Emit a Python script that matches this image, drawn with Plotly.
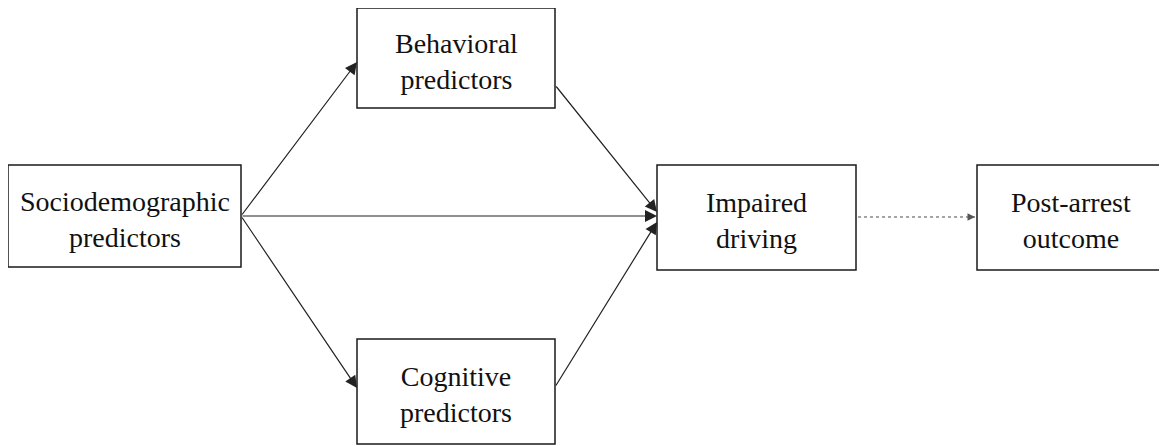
import plotly.graph_objects as go

# Nodes of the path diagram
node_names = ["Sociodemographic<br>predictors", "Behavioral<br>predictors",
              "Cognitive<br>predictors", "Impaired<br>driving", "Post-arrest<br>outcome"]
# box extents (x0, x1, y0, y1) in diagram coordinates
box_x0 = [8, 357, 357, 657, 977]
box_x1 = [241, 555, 555, 856, 1165]
box_y0 = [165, 8, 339, 165, 165]
box_y1 = [267, 108, 444, 270, 270]

# Edges: start point -> end point
edge_x0 = [241, 241, 241, 555, 555]
edge_y0 = [216, 216, 216, 85, 387]
edge_x1 = [357, 657, 357, 657, 657]
edge_y1 = [62, 216, 388, 212, 222]

dotted_x = [858, 975]
dotted_y = [217, 217]

fig = go.Figure()

shapes = []
annotations = []
for i, name in enumerate(node_names):
    shapes.append(dict(type="rect", xref="x", yref="y",
                       x0=box_x0[i], x1=box_x1[i], y0=box_y0[i], y1=box_y1[i],
                       line=dict(color="#1a1a1a", width=1.5), fillcolor="white", layer="below"))
    annotations.append(dict(x=(box_x0[i] + box_x1[i]) / 2, y=(box_y0[i] + box_y1[i]) / 2 + 3,
                            xref="x", yref="y", text=name, showarrow=False,
                            font=dict(family="Liberation Serif", size=28, color="#111"),
                            align="center"))

for x0, y0, x1, y1 in zip(edge_x0, edge_y0, edge_x1, edge_y1):
    annotations.append(dict(x=x1, y=y1, ax=x0, ay=y0, xref="x", yref="y",
                            axref="x", ayref="y", text="", showarrow=True,
                            arrowhead=2, arrowsize=2, arrowwidth=1.2,
                            arrowcolor="#222", standoff=0, startstandoff=0))

fig.add_trace(go.Scatter(x=dotted_x, y=dotted_y, mode="lines",
                         line=dict(color="#888", width=1.5, dash="dot"),
                         hoverinfo="skip", showlegend=False))
annotations.append(dict(x=dotted_x[1], y=dotted_y[1], ax=dotted_x[1] - 4, ay=dotted_y[1],
                        xref="x", yref="y", axref="x", ayref="y", text="", showarrow=True,
                        arrowhead=2, arrowsize=1.5, arrowwidth=1, arrowcolor="#555"))

# page body has an 8px margin, so the figure starts at page pixel 8
fig.update_layout(
    width=1159, height=438,
    margin=dict(l=0, r=0, t=0, b=0),
    paper_bgcolor="white", plot_bgcolor="white",
    xaxis=dict(range=[8, 1167], visible=False, fixedrange=True),
    yaxis=dict(range=[446, 8], visible=False, fixedrange=True),
    shapes=shapes, annotations=annotations, showlegend=False,
)

fig.write_html("out.html")
